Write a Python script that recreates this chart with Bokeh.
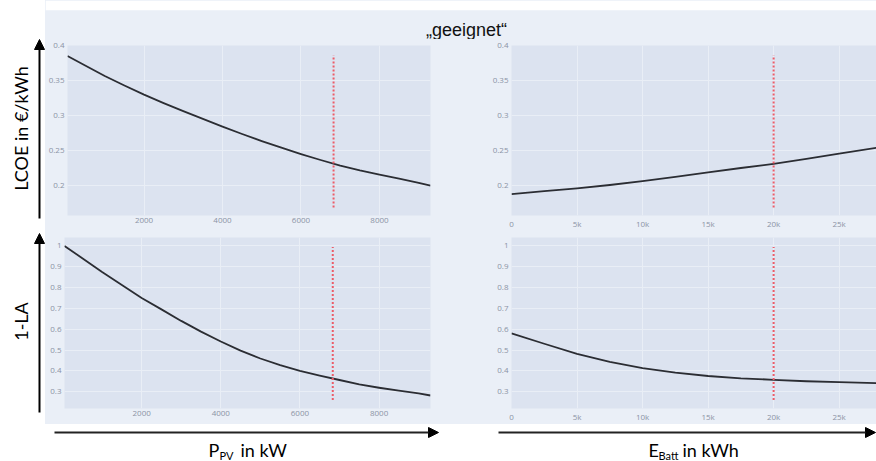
import math
from bokeh.plotting import figure
from bokeh.layouts import row, column
from bokeh.models import Range1d, FixedTicker, Arrow, NormalHead, Label
from bokeh.embed import file_html
from bokeh.resources import INLINE

# ---------------- data ----------------
p_pv = [50, 500, 1000, 1500, 2000, 2500, 3000, 3500, 4000, 4500, 5000,
        5500, 6000, 6500, 7000, 7500, 8000, 8500, 9000, 9300]
lcoe_vs_pv = [0.385, 0.3715, 0.3565, 0.343, 0.330, 0.318, 0.3065, 0.2955, 0.2845, 0.274, 0.264,
              0.2545, 0.2455, 0.237, 0.229, 0.2223, 0.2163, 0.2105, 0.2045, 0.2005]
la_vs_pv = [0.997, 0.938, 0.872, 0.810, 0.748, 0.694, 0.639, 0.588, 0.541, 0.497, 0.4595,
            0.428, 0.401, 0.378, 0.357, 0.336, 0.320, 0.306, 0.293, 0.283]

e_batt = [0, 2500, 5000, 7500, 10000, 12500, 15000, 17500, 20000, 22500, 25000, 27850]
lcoe_vs_batt = [0.1884, 0.1926, 0.1967, 0.2014, 0.207, 0.213, 0.2195, 0.2256, 0.2316, 0.2386, 0.246, 0.2544]
la_vs_batt = [0.580, 0.530, 0.482, 0.443, 0.414, 0.392, 0.376, 0.365, 0.358, 0.351, 0.347, 0.342]

sel_pv = 6830        # chosen PV power (red marker)
sel_batt = 20000     # chosen battery size (red marker)
lcoe_marker_span = [0.1695, 0.386]
la_marker_span = [0.261, 0.992]

pv_ticks = [2000, 4000, 6000, 8000]
batt_ticks = [0, 5000, 10000, 15000, 20000, 25000]
batt_tick_labels = ["0", "5k", "10k", "15k", "20k", "25k"]
lcoe_ticks = [0.2, 0.25, 0.3, 0.35, 0.4]
la_ticks = [0.3, 0.4, 0.5, 0.6, 0.7, 0.8, 0.9, 1.0]
la_tick_labels = ["0.3", "0.4", "0.5", "0.6", "0.7", "0.8", "0.9", "1"]

title_text = "\u201egeeignet\u201c"
y_label_top = "LCOE in \u20ac/kWh"
y_label_bottom = "1-LA"

# ---------------- styles ----------------
PAPER = "#EAEFF7"
PLOT_BG = "#DCE3F0"
GRID = "#E9EEF6"
TICK_COL = "#8A93A5"
CURVE = "#2B2D33"
RED = "#EC5C68"
TXT_FONT = "Lato"


def subplot(width, height, xr, yr, xticks, yticks, xlabels=None, ylabels=None,
            left=19, right=40, top=6, bottom=12):
    p = figure(width=width, height=height, x_range=Range1d(*xr), y_range=Range1d(*yr),
               output_backend="svg", toolbar_location=None,
               min_border_left=left, min_border_right=right,
               min_border_top=top, min_border_bottom=bottom)
    p.background_fill_color = PLOT_BG
    p.border_fill_color = PAPER
    p.outline_line_color = None
    p.xaxis.ticker = FixedTicker(ticks=xticks)
    p.yaxis.ticker = FixedTicker(ticks=yticks)
    if xlabels:
        p.xaxis.major_label_overrides = {t: l for t, l in zip(xticks, xlabels)}
    if ylabels:
        p.yaxis.major_label_overrides = {t: l for t, l in zip(yticks, ylabels)}
    for ax in (p.xaxis, p.yaxis):
        ax.axis_line_color = None
        ax.major_tick_line_color = None
        ax.minor_tick_line_color = None
        ax.major_tick_out = 0
        ax.major_tick_in = 0
        ax.major_label_text_font = "Open Sans"
        ax.major_label_text_font_size = "8px"
        ax.major_label_text_color = TICK_COL
    p.xaxis.major_label_standoff = 2
    p.yaxis.major_label_standoff = 3
    p.xgrid.grid_line_color = GRID
    p.ygrid.grid_line_color = GRID
    p.grid.grid_line_width = 1
    return p


pv_range = (p_pv[0], p_pv[-1])
batt_range = (0, 27850)
lcoe_range = (0.158, 0.4)
la_range = (0.221, 1.037)

tl = subplot(425, 192, pv_range, lcoe_range, pv_ticks, lcoe_ticks, top=6, bottom=13)
tr = subplot(406, 192, batt_range, lcoe_range, batt_ticks, lcoe_ticks,
             xlabels=batt_tick_labels, left=41, right=0, top=6, bottom=13)
bl = subplot(425, 193, pv_range, la_range, pv_ticks, la_ticks, ylabels=la_tick_labels)
br = subplot(406, 193, batt_range, la_range, batt_ticks, la_ticks,
             xlabels=batt_tick_labels, ylabels=la_tick_labels, left=41, right=0)

for fig, xs, ys, sel, span in ((tl, p_pv, lcoe_vs_pv, sel_pv, lcoe_marker_span),
                               (tr, e_batt, lcoe_vs_batt, sel_batt, lcoe_marker_span),
                               (bl, p_pv, la_vs_pv, sel_pv, la_marker_span),
                               (br, e_batt, la_vs_batt, sel_batt, la_marker_span)):
    fig.line(xs, ys, line_color=CURVE, line_width=1.8, line_join="round")
    fig.segment(x0=[sel], y0=[span[0]], x1=[sel], y1=[span[1]],
                line_color=RED, line_width=2, line_dash="2 2")


def blank(width, height, bg, border_bg=None, top=0):
    p = figure(width=width, height=height,
               x_range=Range1d(0, width), y_range=Range1d(0, height - top),
               x_axis_type=None, y_axis_type=None, output_backend="svg", toolbar_location=None,
               min_border=0, min_border_top=top)
    p.outline_line_color = None
    p.background_fill_color = bg
    p.border_fill_color = border_bg or bg
    p.grid.visible = False
    return p


# title band: white strip on top, light paper below
TH = 39
title_fig = blank(831, TH, PAPER, border_bg="white", top=10)
title_fig.add_layout(Label(x=421, y=TH - 29.5, text=title_text, text_font="Liberation Sans",
                           text_font_size="18px", text_color="#111111",
                           text_align="center", text_baseline="middle"))

# left strip with the rotated y labels and the upward arrows
LH = 424
left_fig = blank(45, LH, "white")
left_fig.add_layout(Label(x=20, y=LH - 128, text=y_label_top, angle=math.pi / 2,
                          text_font=TXT_FONT, text_font_size="18px", text_color="black",
                          text_align="center", text_baseline="middle"))
left_fig.add_layout(Label(x=20, y=LH - 321, text=y_label_bottom, angle=math.pi / 2,
                          text_font=TXT_FONT, text_font_size="18px", text_color="black",
                          text_align="center", text_baseline="middle"))
for y0, y1 in ((218, 39), (412, 233)):
    left_fig.add_layout(Arrow(end=NormalHead(size=10, fill_color="black", line_color="black"),
                              x_start=39, y_start=LH - y0, x_end=39, y_end=LH - y1,
                              line_color="black", line_width=2))

# bottom strip with the rightward arrows and the x labels
BH = 37
bottom_fig = blank(876, BH, "white")
for x0, x1 in ((54, 438), (498, 875)):
    bottom_fig.add_layout(Arrow(end=NormalHead(size=10, fill_color="black", line_color="black"),
                                x_start=x0, y_start=BH - 8, x_end=x1, y_end=BH - 8,
                                line_color="#222222", line_width=2))


def lab(fig, x, y_from_top, text, size):
    fig.add_layout(Label(x=x, y=BH - y_from_top, text=text, text_font=TXT_FONT,
                         text_font_size=size, text_color="black",
                         text_align="left", text_baseline="middle"))


lab(bottom_fig, 208, 25.5, "P", "18px")
lab(bottom_fig, 219, 30.5, "PV", "11px")
lab(bottom_fig, 240, 25.5, "in kW", "18px")
lab(bottom_fig, 648, 25.5, "E", "18px")
lab(bottom_fig, 658, 30.5, "Batt", "11px")
lab(bottom_fig, 682, 25.5, "in kWh", "18px")

paper_style = {"background-color": PAPER}
layout = column(
    row(left_fig,
        column(title_fig,
               row(tl, tr, styles=paper_style),
               row(bl, br, styles=paper_style),
               styles=paper_style)),
    bottom_fig,
)

open("out.html", "w").write(file_html(layout, INLINE))
